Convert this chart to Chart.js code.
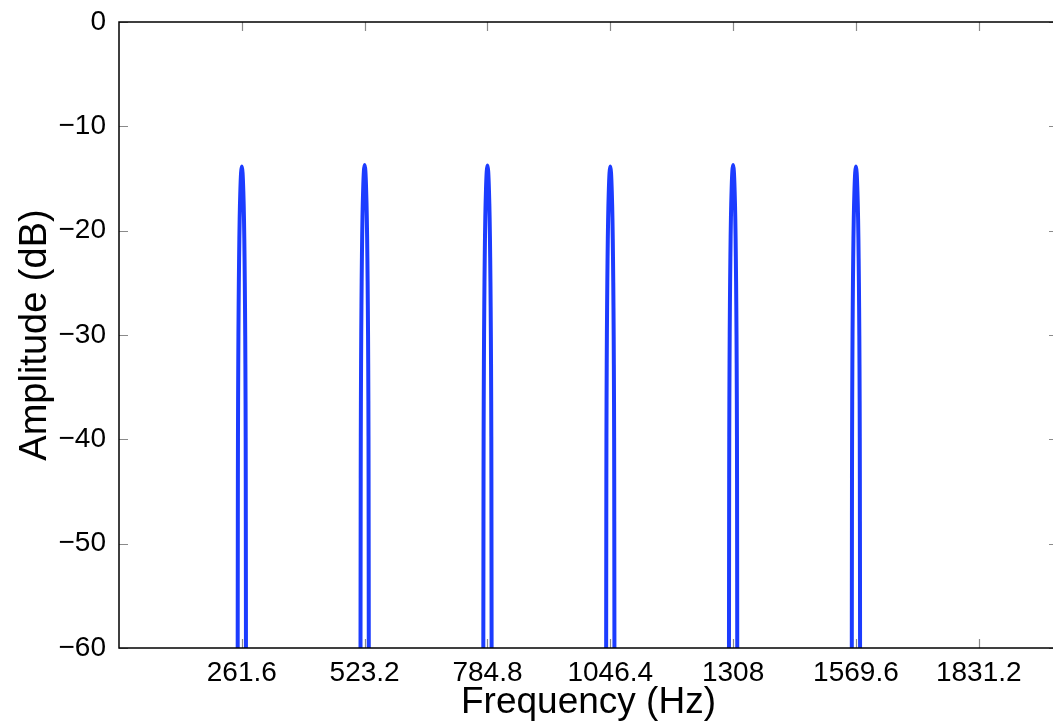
<!DOCTYPE html>
<html>
<head>
<meta charset="utf-8">
<script src="https://cdn.jsdelivr.net/npm/chart.js@4"></script>
<style>
  html, body { margin: 0; padding: 0; background: #fff; overflow: hidden; }
  #wrap { width: 1053px; height: 726px; overflow: hidden; }
</style>
</head>
<body>
<div id="wrap"><canvas id="spectrum" width="1072" height="726"></canvas></div>
<script>
// harmonic partials of C4 and their peak levels
const peakFreqs = [261.6, 523.2, 784.8, 1046.4, 1308, 1569.6];
const peakDb = [-13.85, -13.7, -13.75, -13.85, -13.7, -13.85];

// main-lobe profile around each partial: offset (Hz) -> level below the peak (dB)
const lobeOffsets = [-9.2, -8.8, -8.5, -8.2, -7.6, -6.8, -5.8, -4.6, -3.2, -1.6, 0, 1.6, 3.2, 4.6, 5.8, 6.8, 7.6, 8.2, 8.5, 8.8, 9.2];
const lobeShape = [-70, -46, -34, -26, -19, -13.5, -8.8, -5, -2.4, -0.6, 0, -0.6, -2.4, -5, -8.8, -13.5, -19, -26, -34, -46, -70];

const freqTicks = [261.6, 523.2, 784.8, 1046.4, 1308, 1569.6, 1831.2];
const dbTicks = [0, -10, -20, -30, -40, -50, -60];

const points = [];
peakFreqs.forEach((f, i) => {
  lobeOffsets.forEach((off, j) => {
    points.push({ x: f + off, y: peakDb[i] + lobeShape[j] });
  });
  points.push({ x: f + 20, y: null }); // break the line between partials
});

Chart.defaults.font.family = '"Liberation Sans", Arial, Helvetica, sans-serif';
Chart.defaults.color = '#000';

// MATLAB-style box with inward ticks on all four sides
const boxAxes = {
  id: 'boxAxes',
  afterDraw(chart) {
    const { ctx, chartArea: a, scales: { x, y } } = chart;
    const len = 9;
    ctx.save();
    ctx.strokeStyle = '#8a8a8a';
    ctx.lineWidth = 1.2;
    ctx.beginPath();
    freqTicks.forEach(v => {
      const px = Math.round(x.getPixelForValue(v)) + 0.5;
      ctx.moveTo(px, a.bottom); ctx.lineTo(px, a.bottom - len);
      ctx.moveTo(px, a.top); ctx.lineTo(px, a.top + len);
    });
    dbTicks.forEach(v => {
      const py = Math.round(y.getPixelForValue(v)) + 0.5;
      ctx.moveTo(a.left, py); ctx.lineTo(a.left + len, py);
      ctx.moveTo(a.right, py); ctx.lineTo(a.right - len, py);
    });
    ctx.stroke();
    ctx.strokeStyle = '#000';
    ctx.lineWidth = 1.5;
    ctx.strokeRect(a.left, a.top, a.right - a.left, a.bottom - a.top);
    ctx.restore();
  }
};

// keep tick labels from pushing the plot area around
const noScalePad = s => {
  s.paddingTop = 0; s.paddingBottom = 0;
  s.paddingLeft = 0; s.paddingRight = 0;
};

new Chart(document.getElementById('spectrum'), {
  type: 'line',
  data: {
    datasets: [{
      data: points,
      borderColor: '#1c3cff',
      borderWidth: 4,
      pointRadius: 0,
      tension: 0.35,
      spanGaps: false,
      clip: 0
    }]
  },
  options: {
    responsive: false,
    animation: false,
    layout: { padding: { top: 22, right: 14, left: 0, bottom: 0 } },
    plugins: { legend: { display: false }, tooltip: { enabled: false } },
    scales: {
      x: {
        type: 'linear',
        min: 0,
        max: 2000,
        afterBuildTicks: s => { s.ticks = freqTicks.map(v => ({ value: v })); },
        afterFit: s => { s.height = 78; noScalePad(s); },
        grid: { display: false },
        border: { display: false },
        ticks: {
          autoSkip: false,
          maxRotation: 0,
          padding: 0,
          font: { size: 28 },
          callback: v => String(v)
        },
        title: {
          display: true,
          text: 'Frequency (Hz)',
          font: { size: 37 },
          padding: { top: 0, bottom: 1 }
        }
      },
      y: {
        min: -60,
        max: 0,
        afterBuildTicks: s => { s.ticks = dbTicks.map(v => ({ value: v })); },
        afterFit: s => { s.width = 119; noScalePad(s); },
        grid: { display: false },
        border: { display: false },
        ticks: {
          padding: 5,
          font: { size: 28 },
          callback: v => (v < 0 ? '\u2212' + Math.abs(v) : String(v))
        },
        title: {
          display: true,
          text: 'Amplitude (dB)',
          font: { size: 38 },
          padding: { top: 13, bottom: 0 }
        }
      }
    }
  },
  plugins: [boxAxes]
});
</script>
</body>
</html>
